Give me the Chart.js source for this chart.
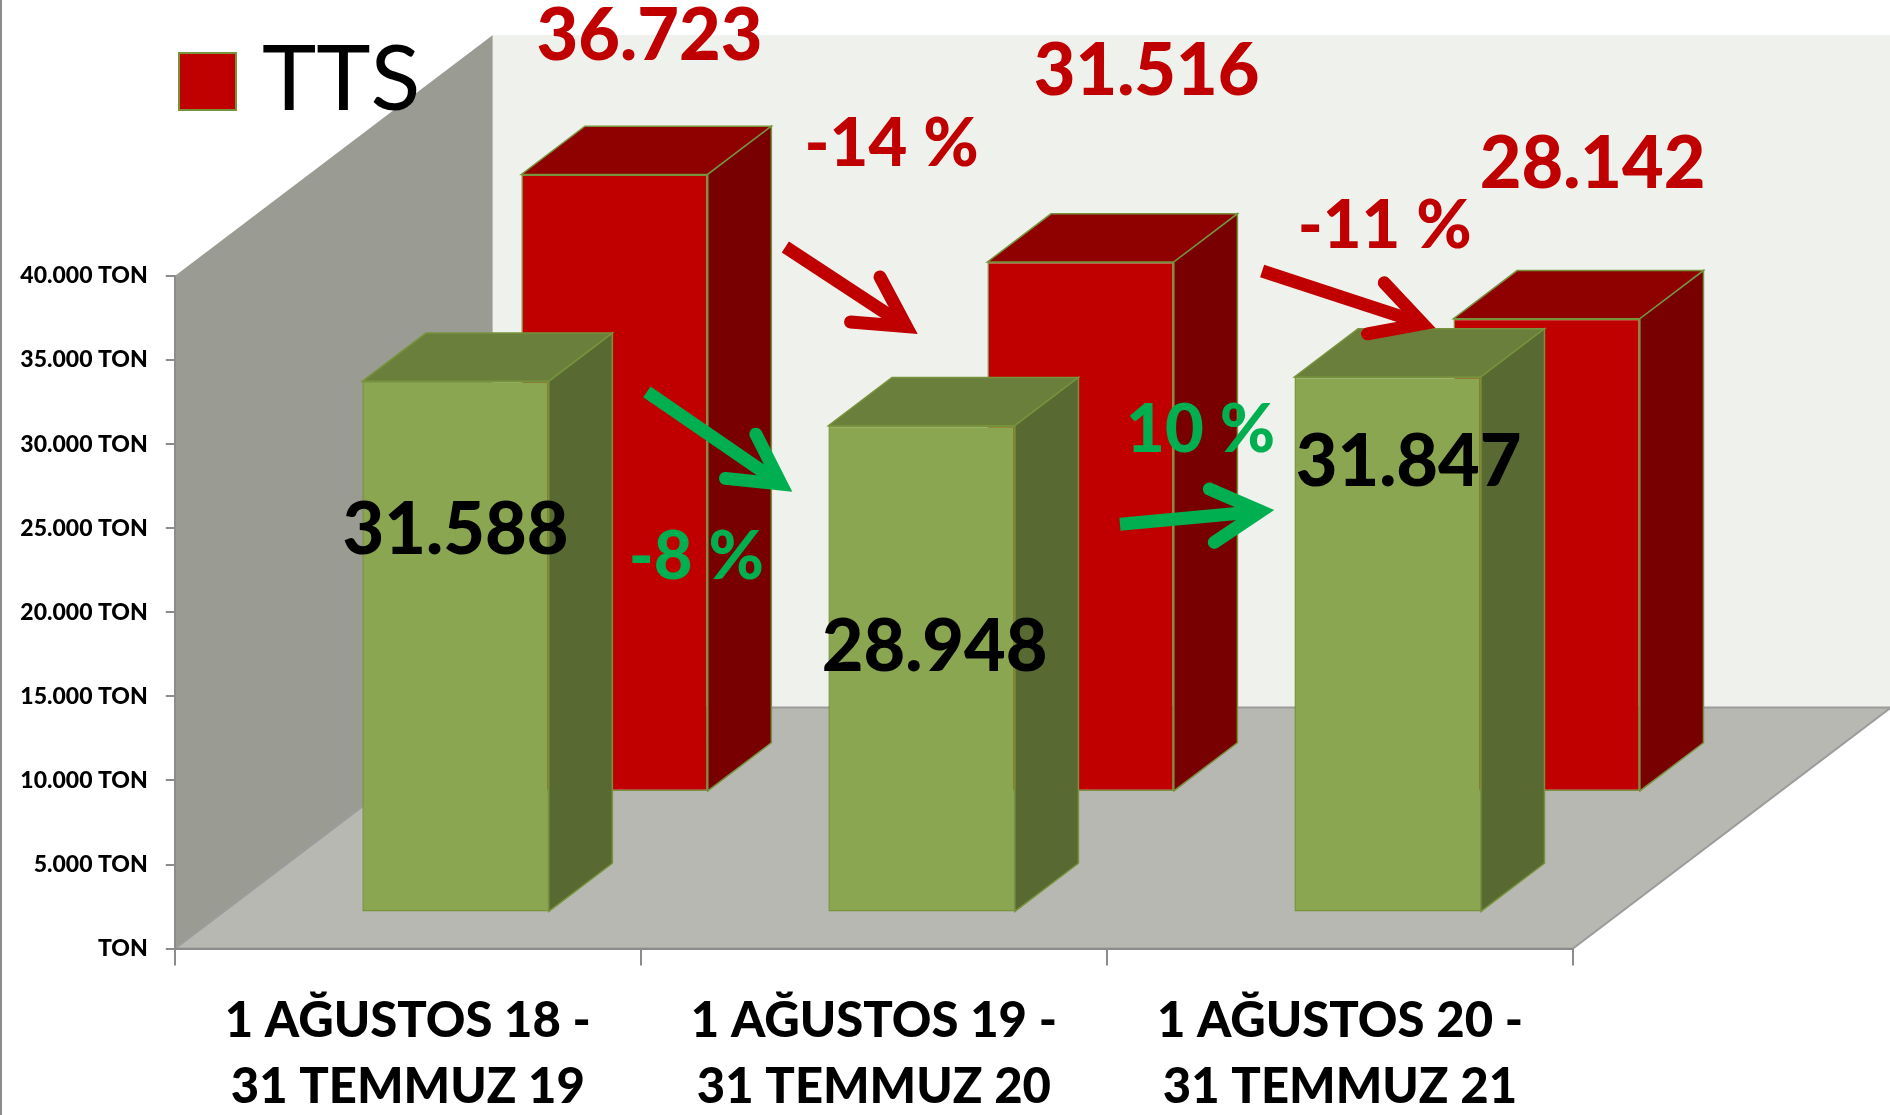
<!DOCTYPE html>
<html>
<head>
<meta charset="utf-8">
<title>TTS</title>
<script src="https://cdn.jsdelivr.net/npm/chart.js@4.4.1/dist/chart.umd.min.js"></script>
<style>
  html, body { margin: 0; padding: 0; background: #ffffff; overflow: hidden; }
  #wrap { position: relative; width: 1890px; height: 1115px; }
</style>
</head>
<body>
<div id="wrap"><canvas id="tonChart" width="1890" height="1115"></canvas></div>
<script>
// --- data ---
const categories = [
    ['1 AĞUSTOS 18 -', '31 TEMMUZ 19'],
    ['1 AĞUSTOS 19 -', '31 TEMMUZ 20'],
    ['1 AĞUSTOS 20 -', '31 TEMMUZ 21']
];
const greenValues = [31588, 28948, 31847];
const ttsValues = [36723, 31516, 28142];
const yTicks = [0, 5000, 10000, 15000, 20000, 25000, 30000, 35000, 40000];
const yTickLabels = ['TON', '5.000 TON', '10.000 TON', '15.000 TON', '20.000 TON',
    '25.000 TON', '30.000 TON', '35.000 TON', '40.000 TON'];

// --- look ---
const AXIS = '#8c8c8c';
const FONT = 'Lato, "Open Sans", sans-serif';
const HEAVY = '900';
const DEPTH_X = 318, DEPTH_Y = -241;      // full depth of the 3d box
const seriesDepth = [0.15, 0.65];         // front of each series, as part of the depth
const BAR_THICK = 0.2;                    // bar depth, as part of the depth
const faces = [
    { top: '#6b7f3c', side: '#586a31', text: '#000000' },
    { top: '#8f0000', side: '#790000', text: '#c00000' }
];
// label nudges from the top centre of each bar front (px)
const labelNudge = [
    [[0, 149], [13, 222], [21, 86]],
    [[35, -138], [66, -190], [46, -154]]
];
// change arrows and percent texts, in axis units (category index, tons)
const changeMarks = [
    { series: 1, from: 0, text: [1.038, 47814], arrow: [0.810, 41725, 1.094, 36557] },
    { series: 1, from: 1, text: [2.096, 42938], arrow: [1.833, 40297, 2.205, 36914] },
    { series: 0, from: 0, text: [0.619, 23295], arrow: [0.513, 33113, 0.825, 27166] },
    { series: 0, from: 1, text: [1.701, 30824], arrow: [1.528, 25233, 1.859, 26090] }
];
const markColors = ['#00b050', '#c00000'];

function fmt(v) {
    return String(v).replace(/\B(?=(\d{3})+(?!\d))/g, '.');
}

function poly(ctx, pts, fill, stroke, lw) {
    ctx.beginPath();
    ctx.moveTo(pts[0][0], pts[0][1]);
    for (let k = 1; k < pts.length; k++) ctx.lineTo(pts[k][0], pts[k][1]);
    ctx.closePath();
    ctx.fillStyle = fill;
    ctx.fill();
    if (stroke) {
        ctx.strokeStyle = stroke;
        ctx.lineWidth = lw;
        ctx.stroke();
    }
}

function arrow(ctx, x1, y1, x2, y2, color) {
    const ang = Math.atan2(y2 - y1, x2 - x1);
    const lw = 13, head = 56, spread = 0.5;
    // pull the join back so the outer point of the miter lands on the tip
    const back = (lw / 2) / Math.sin(spread);
    const tx = x2 - Math.cos(ang) * back, ty = y2 - Math.sin(ang) * back;
    ctx.save();
    ctx.strokeStyle = color;
    ctx.lineWidth = lw;
    ctx.lineCap = 'butt';
    ctx.beginPath();
    ctx.moveTo(x1, y1);
    ctx.lineTo(tx, ty);
    ctx.stroke();
    ctx.lineCap = 'round';
    ctx.lineJoin = 'miter';
    ctx.miterLimit = 10;
    ctx.beginPath();
    ctx.moveTo(tx - head * Math.cos(ang - spread), ty - head * Math.sin(ang - spread));
    ctx.lineTo(tx, ty);
    ctx.lineTo(tx - head * Math.cos(ang + spread), ty - head * Math.sin(ang + spread));
    ctx.stroke();
    ctx.restore();
}

// draws walls, floor, the bar tops/sides and all the texts
const box3d = {
    id: 'box3d',
    beforeDraw(chart) {
        const ctx = chart.ctx;
        const a = chart.chartArea;
        const L = a.left, R = a.right, T = a.top, B = a.bottom;
        ctx.save();
        ctx.fillStyle = AXIS;
        ctx.fillRect(0, 0, 2, chart.height);
        poly(ctx, [[L, T], [L + DEPTH_X, T + DEPTH_Y], [L + DEPTH_X, B + DEPTH_Y], [L, B]], '#9a9c94');
        poly(ctx, [[L + DEPTH_X, T + DEPTH_Y], [R + DEPTH_X, T + DEPTH_Y], [R + DEPTH_X, B + DEPTH_Y], [L + DEPTH_X, B + DEPTH_Y]], '#eff2ec');
        poly(ctx, [[L, B], [R, B], [R + DEPTH_X, B + DEPTH_Y], [L + DEPTH_X, B + DEPTH_Y]], '#b6b8b1', '#9c9c9c', 2);
        ctx.restore();
    },
    beforeDatasetDraw(chart, args) {
        const f = seriesDepth[args.index];
        chart.ctx.save();
        chart.ctx.translate(DEPTH_X * f, DEPTH_Y * f);
    },
    afterDatasetDraw(chart, args) {
        const ctx = chart.ctx;
        const tx = DEPTH_X * BAR_THICK, ty = DEPTH_Y * BAR_THICK;
        const look = faces[args.index];
        const edge = chart.data.datasets[args.index].borderColor;
        args.meta.data.forEach(el => {
            const l = el.x - el.width / 2, r = el.x + el.width / 2;
            poly(ctx, [[l, el.y], [r, el.y], [r + tx, el.y + ty], [l + tx, el.y + ty]], look.top, edge, 1.5);
            poly(ctx, [[r, el.y], [r + tx, el.y + ty], [r + tx, el.base + ty], [r, el.base]], look.side, edge, 1.5);
        });
        ctx.restore();
    },
    afterDatasetsDraw(chart) {
        const ctx = chart.ctx;
        const xs = chart.scales.x, ys = chart.scales.y;
        ctx.save();
        ctx.textAlign = 'center';
        ctx.textBaseline = 'middle';

        // value labels
        chart.data.datasets.forEach((ds, d) => {
            const meta = chart.getDatasetMeta(d);
            ctx.fillStyle = faces[d].text;
            ctx.font = HEAVY + ' 72px ' + FONT;
            meta.data.forEach((el, i) => {
                const n = labelNudge[d][i];
                const x = el.x + DEPTH_X * seriesDepth[d] + n[0];
                const y = el.y + DEPTH_Y * seriesDepth[d] + n[1];
                ctx.fillText(fmt(ds.data[i]), x, y);
            });
        });

        // yearly change: arrows and percentages
        changeMarks.forEach(m => {
            const vals = chart.data.datasets[m.series].data;
            const pct = Math.round((vals[m.from + 1] - vals[m.from]) / vals[m.from] * 100);
            const c = markColors[m.series];
            arrow(ctx,
                xs.getPixelForValue(m.arrow[0]), ys.getPixelForValue(m.arrow[1]),
                xs.getPixelForValue(m.arrow[2]), ys.getPixelForValue(m.arrow[3]), c);
            ctx.fillStyle = c;
            ctx.font = HEAVY + ' 67px ' + FONT;
            ctx.fillText(pct + ' %', xs.getPixelForValue(m.text[0]), ys.getPixelForValue(m.text[1]));
        });

        // legend (only the TTS series is listed)
        const tts = chart.data.datasets[1];
        ctx.fillStyle = tts.backgroundColor;
        ctx.fillRect(179, 53, 57, 57);
        ctx.strokeStyle = tts.borderColor;
        ctx.lineWidth = 2;
        ctx.strokeRect(179, 53, 57, 57);
        ctx.fillStyle = '#000000';
        ctx.textAlign = 'left';
        ctx.font = '92px ' + FONT;
        ctx.fillText(tts.label, 262, 80);
        ctx.restore();
    }
};

function drawChart() {
    const ctx = document.getElementById('tonChart').getContext('2d');
    new Chart(ctx, {
        type: 'bar',
        data: {
            labels: categories,
            datasets: [{
                label: '',
                data: greenValues,
                backgroundColor: '#8ba650',
                borderColor: '#77933c',
                borderWidth: 1.5,
                borderSkipped: false,
                grouped: false,
                clip: false,
                categoryPercentage: 1.0,
                barPercentage: 0.4
            }, {
                label: 'TTS',
                data: ttsValues,
                backgroundColor: '#c00000',
                borderColor: '#77933c',
                borderWidth: 1.5,
                borderSkipped: false,
                grouped: false,
                clip: false,
                categoryPercentage: 1.0,
                barPercentage: 0.4
            }]
        },
        options: {
            responsive: false,
            animation: false,
            events: [],
            layout: { padding: { top: 276, right: 317, left: 0, bottom: 0 } },
            plugins: {
                legend: { display: false },
                tooltip: { enabled: false }
            },
            scales: {
                x: {
                    grid: { drawOnChartArea: false, tickLength: 17, color: AXIS, lineWidth: 2, offset: true },
                    border: { display: true, color: AXIS, width: 2 },
                    ticks: {
                        color: '#000000',
                        font: { family: FONT, weight: HEAVY, size: 49, lineHeight: 1.34 },
                        padding: 23,
                        maxRotation: 0,
                        autoSkip: false
                    },
                    afterFit(scale) { scale.height = 166.4; }
                },
                y: {
                    min: 0,
                    max: 40000,
                    grid: { drawOnChartArea: false, tickLength: 9, color: AXIS, lineWidth: 2 },
                    border: { display: true, color: AXIS, width: 2 },
                    ticks: {
                        stepSize: 5000,
                        color: '#000000',
                        font: { family: FONT, weight: HEAVY, size: 23 },
                        padding: 18,
                        callback: v => yTickLabels[yTicks.indexOf(v)]
                    },
                    afterFit(scale) { scale.width = 174.8; }
                }
            }
        },
        plugins: [box3d]
    });
}

Promise.all([
    document.fonts.load(HEAVY + ' 50px Lato'),
    document.fonts.load('92px Lato')
]).then(drawChart, drawChart);
</script>
</body>
</html>
